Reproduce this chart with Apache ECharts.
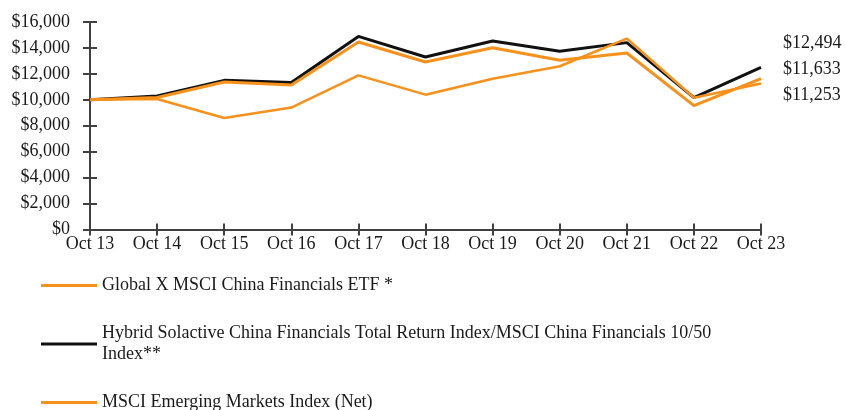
<!DOCTYPE html>
<html>
<head>
<meta charset="utf-8">
<script src="https://cdn.jsdelivr.net/npm/echarts@6/dist/echarts.min.js"></script>
<style>
  html, body { margin: 0; padding: 0; background: #fff; }
  #div-chart { width: 846px; height: 410px; }
</style>
</head>
<body>
<div id="div-chart"></div>
<script>
var myChart = echarts.init(document.getElementById('div-chart'));

// data
var years = ['Oct 13','Oct 14','Oct 15','Oct 16','Oct 17','Oct 18','Oct 19','Oct 20','Oct 21','Oct 22','Oct 23'];
var etfName = 'Global X MSCI China Financials ETF *';
var hybridName = 'Hybrid Solactive China Financials Total Return Index/MSCI China Financials 10/50 Index**';
var emName = 'MSCI Emerging Markets Index (Net)';
var etfValues = [10000, 10180, 11380, 11150, 14460, 12920, 14020, 13050, 13610, 9550, 11633];
var hybridValues = [10000, 10300, 11500, 11330, 14890, 13300, 14540, 13740, 14410, 10170, 12494];
var emValues = [10000, 10064, 8601, 9399, 11885, 10397, 11630, 12589, 14724, 10155, 11253];

var orange = '#F7911C';
var axisColor = '#404040';
var font = 'Liberation Serif';

function endLabel(dy) {
    return {
        show: true,
        offset: [14, dy],
        fontFamily: font,
        fontSize: 18,
        color: '#1a1a1a',
        formatter: function (p) { return '$' + p.value.toLocaleString('en-US'); }
    };
}

option = {
    animation: false,
    backgroundColor: '#fff',
    textStyle: { fontFamily: font },
    grid: { left: 90, right: 85, top: 22, height: 207.5 },
    legend: {
        orient: 'vertical',
        left: 41,
        top: 275,
        padding: 0,
        height: 150,
        icon: 'rect',
        itemWidth: 56,
        itemHeight: 3,
        itemGap: 27,
        data: [etfName, hybridName, emName],
        textStyle: { fontFamily: font, fontSize: 18, color: '#1a1a1a', lineHeight: 21 },
        formatter: function (name) {
            if (name === hybridName) {
                return 'Hybrid Solactive China Financials Total Return Index/MSCI China Financials 10/50\nIndex**';
            }
            return name;
        }
    },
    xAxis: [
        {
            type: 'category',
            boundaryGap: false,
            data: years,
            axisLine: { lineStyle: { color: axisColor, width: 2 } },
            axisTick: { show: true, length: 6, lineStyle: { color: axisColor, width: 2 } },
            axisLabel: { fontFamily: font, fontSize: 18, color: '#1a1a1a', margin: 6, interval: 0 },
            splitLine: { show: false }
        },
        {
            // inner half of the crossing ticks
            type: 'category',
            position: 'bottom',
            boundaryGap: false,
            data: years,
            axisLine: { show: false },
            axisTick: { show: true, inside: true, length: 6, lineStyle: { color: axisColor, width: 2 } },
            axisLabel: { show: false },
            splitLine: { show: false }
        }
    ],
    yAxis: [
        {
            type: 'value',
            min: 0,
            max: 16000,
            interval: 2000,
            axisLine: { show: true, lineStyle: { color: axisColor, width: 2 } },
            axisTick: { show: true, length: 7, lineStyle: { color: axisColor, width: 2 } },
            axisLabel: {
                fontFamily: font, fontSize: 18, color: '#1a1a1a', margin: 20,
                formatter: function (v) { return '$' + v.toLocaleString('en-US'); }
            },
            splitLine: { show: false }
        },
        {
            type: 'value',
            position: 'left',
            min: 0,
            max: 16000,
            interval: 2000,
            axisLine: { show: false },
            axisTick: { show: true, inside: true, length: 7, lineStyle: { color: axisColor, width: 2 } },
            axisLabel: { show: false },
            splitLine: { show: false }
        }
    ],
    series: [
        {
            name: etfName,
            type: 'line',
            data: etfValues,
            symbol: 'none',
            z: 3,
            lineStyle: { color: orange, width: 3 },
            itemStyle: { color: orange },
            endLabel: endLabel(-9)
        },
        {
            name: hybridName,
            type: 'line',
            data: hybridValues,
            symbol: 'none',
            z: 2,
            lineStyle: { color: '#111', width: 3 },
            itemStyle: { color: '#111' },
            endLabel: endLabel(-24)
        },
        {
            name: emName,
            type: 'line',
            data: emValues,
            symbol: 'none',
            z: 4,
            lineStyle: { color: orange, width: 2.5 },
            itemStyle: { color: orange },
            endLabel: endLabel(12)
        }
    ]
};

myChart.setOption(option);
</script>
</body>
</html>
